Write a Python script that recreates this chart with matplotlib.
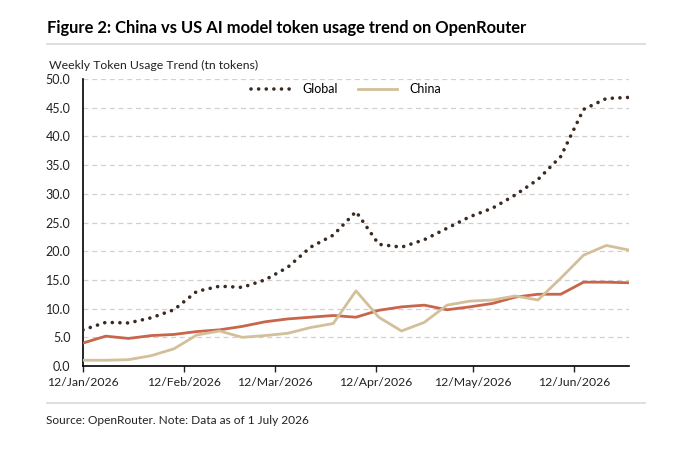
import matplotlib
matplotlib.use("Agg")
import matplotlib.pyplot as plt
import matplotlib.dates as mdates
import numpy as np
import pandas as pd

dates = pd.date_range("2026-01-12", periods=25, freq="7D")
global_vals = [6.3, 7.6, 7.5, 8.4, 9.8, 13.0, 13.9, 13.7, 15.0, 17.2, 20.7, 22.8, 26.9,
               21.2, 20.7, 22.0, 24.0, 26.0, 27.5, 29.8, 32.5, 36.5, 44.7, 46.6, 46.8]
china_vals = [1.0, 1.0, 1.1, 1.8, 3.0, 5.4, 6.1, 5.0, 5.3, 5.7, 6.7, 7.4, 13.1,
              8.5, 6.1, 7.6, 10.6, 11.3, 11.5, 12.2, 11.5, 15.3, 19.3, 21.0, 20.2]
us_vals = [4.0, 5.2, 4.8, 5.3, 5.5, 6.0, 6.3, 6.9, 7.7, 8.2, 8.5, 8.8, 8.5,
           9.7, 10.3, 10.6, 9.8, 10.3, 10.9, 12.0, 12.5, 12.5, 14.6, 14.6, 14.5]
tick_dates = pd.to_datetime(["2026-01-12", "2026-02-12", "2026-03-12",
                             "2026-04-12", "2026-05-12", "2026-06-12"])
yticks = np.arange(0, 50.1, 5)

plt.rcParams['font.family'] = ['Lato', 'DejaVu Sans']

fig = plt.figure(figsize=(7, 4.54), dpi=100)
ax = fig.add_axes([83/700, 1-366/454, (629-83)/700, (366-79)/454])

c_global = "#3b2a20"
c_china = "#d3bf99"
c_us = "#c8654a"

ax.plot(dates, us_vals, color=c_us, lw=2.0, solid_capstyle='round', zorder=3)
ax.plot(dates, china_vals, color=c_china, lw=2.0, label="China", zorder=3)
ax.plot(dates, global_vals, color=c_global, lw=2.6, linestyle=(0, (0.01, 2.1)),
        dash_capstyle='round', label="Global", zorder=4)

ax.set_xlim(dates[0], dates[-1])
ax.set_ylim(0, 50)
ax.set_yticks(yticks)
ax.set_yticklabels([f"{v:.1f}" for v in yticks])
ax.set_xticks(tick_dates)
ax.set_xticklabels([d.strftime("%d/%b/%Y") for d in tick_dates])

ax.grid(axis='y', color='#d0d0d0', linestyle=(0, (4, 3)), lw=0.9)
ax.set_axisbelow(True)
for s in ['top', 'right']:
    ax.spines[s].set_visible(False)
ax.spines['left'].set_color('black')
ax.spines['bottom'].set_color('black')
ax.spines['left'].set_linewidth(1.2)
ax.spines['bottom'].set_linewidth(1.2)
ax.tick_params(axis='y', length=0, labelsize=9, pad=9, colors='#222222')
ax.tick_params(axis='x', length=4, width=1, direction='out', labelsize=8.8, pad=4, colors='#222222')

handles, labels = ax.get_legend_handles_labels()
order = [1, 0]
ax.legend([handles[i] for i in order], [labels[i] for i in order], ncol=2,
          loc='center', bbox_to_anchor=((346-83)/546, (366-89)/287), frameon=False,
          fontsize=9, handlelength=3.1, columnspacing=1.6, handletextpad=1.0,
          borderpad=0, borderaxespad=0)

fig.text(47/700, 1-28/454, "Figure 2: China vs US AI model token usage trend on OpenRouter",
         fontsize=11.9, fontweight='bold', va='center', ha='left', color='black')
fig.add_artist(plt.Line2D([47/700, 645/700], [1-44/454, 1-44/454], color='#d8d8d8', lw=1.2))
fig.text(49/700, 1-65/454, "Weekly Token Usage Trend (tn tokens)", fontsize=8.8,
         va='center', ha='left', color='#222222')
fig.add_artist(plt.Line2D([47/700, 645/700], [1-403/454, 1-403/454], color='#d8d8d8', lw=1.2))
fig.text(46/700, 1-421/454, "Source: OpenRouter. Note: Data as of 1 July 2026", fontsize=8.6,
         va='center', ha='left', color='#222222')

fig.savefig("out.png", dpi=100)
